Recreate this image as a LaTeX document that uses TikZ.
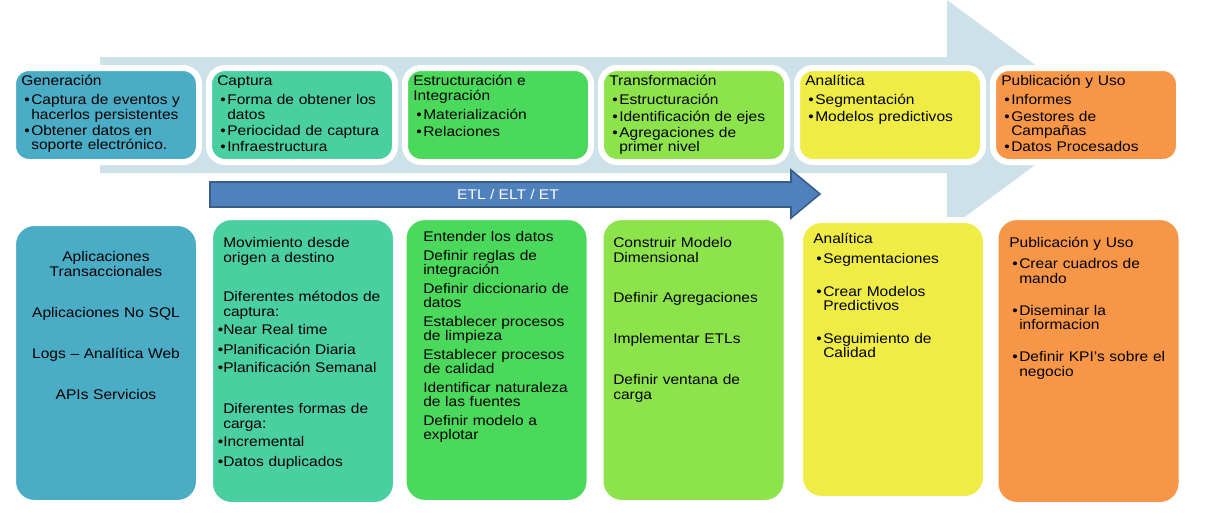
\documentclass[tikz,border=0pt]{standalone}
\usepackage{fontspec}
\setmainfont[FakeStretch=1.11]{Liberation Sans}
\usepackage{xcolor}
\usetikzlibrary{shadows}

\definecolor{cGen}{RGB}{75,172,198}
\definecolor{cCap}{RGB}{74,207,160}
\definecolor{cEst}{RGB}{75,217,91}
\definecolor{cTra}{RGB}{141,227,75}
\definecolor{cAna}{RGB}{238,236,69}
\definecolor{cPub}{RGB}{247,150,70}
\definecolor{cFondo}{RGB}{205,225,232}
\definecolor{cEtl}{RGB}{79,129,189}
\definecolor{cEtlBorde}{RGB}{56,93,138}

\newcommand{\vin}{\hspace*{2.25pt}\makebox[5.25pt][l]{\textbullet}}
\newcommand{\sig}{\hspace*{7.5pt}}
\newcommand{\pto}{\leavevmode\llap{\textbullet}}

\begin{document}
\begin{tikzpicture}[x=0.75pt, y=-0.75pt,
    caja/.style={rectangle, rounded corners=#1, draw=white, line width=4.5pt,
        minimum width=139.5pt, drop shadow={opacity=0.25, shadow xshift=1.2pt, shadow yshift=-1.8pt}},
    texto/.style={anchor=base west, inner sep=0pt, text width=132pt, align=left,
        font=\fontsize{10.5}{10.9}\selectfont}]
    \useasboundingbox (0,0) rectangle (1207,522);

    % Flecha de fondo
    \fill[cFondo] (100,57) -- (947,57) -- (947,0) -- (1103,115) -- (947,230)
        -- (947,173) -- (100,173) -- cycle;

    % Cajas superiores
    \foreach \i/\c in {0/cGen, 1/cCap, 2/cEst, 3/cTra, 4/cAna, 5/cPub} {
        \node[caja=12pt, fill=\c, minimum height=70.5pt] (sup\i) at (106+196*\i,115) {};
    }

    % Flecha ETL
    \draw[fill=cEtl, draw=cEtlBorde, line width=1.2pt] (210,182) -- (791,182) -- (791,170)
        -- (820,194) -- (791,218) -- (791,207) -- (210,207) -- cycle;
    \node[font=\fontsize{10.5}{10.9}\selectfont, text=white] (etl) at (508,194) {ETL / ELT / ET};

    % Cajas inferiores
    \foreach \i/\x/\y/\h/\c in {0/106/363/274/cGen, 1/303/361/282/cCap, 2/496.5/360/280/cEst,
            3/693.5/360/280/cTra, 4/893/359.5/273/cAna, 5/1088.5/361/282/cPub} {
        \node[caja=16pt, fill=\c, minimum height=\h*0.75pt+4.5pt] (inf\i) at (\x,\y) {};
    }

    % Textos superiores
    \node[texto] (tgen) at (21,85.5) {Generación\\[3.4pt]
        \vin Captura de eventos y\\ \sig hacerlos persistentes\\[1.2pt]
        \vin Obtener datos en\\ \sig soporte electrónico.};
    \node[texto] (tcap) at (217,85.5) {Captura\\[3.4pt]
        \vin Forma de obtener los\\ \sig datos\\[1.2pt]
        \vin Periocidad de captura\\[1.2pt] \vin Infraestructura};
    \node[texto] (test) at (413,85.5) {Estructuración e\\ Integración\\[4pt]
        \vin Materialización\\[1.2pt] \vin Relaciones};
    \node[texto] (ttra) at (609,85.5) {Transformación\\[3.4pt]
        \vin Estructuración\\[1.5pt] \vin Identificación de ejes\\[1.2pt]
        \vin Agregaciones de\\ \sig primer nivel};
    \node[texto] (tana) at (805,85.5) {Analítica\\[3.4pt]
        \vin Segmentación\\[1.5pt] \vin Modelos predictivos};
    \node[texto] (tpub) at (1001,85.5) {Publicación y Uso\\[3.4pt]
        \vin Informes\\[1.5pt] \vin Gestores de\\ \sig Campañas\\[1.2pt]
        \vin Datos Procesados};

    % Textos inferiores
    \node[texto, anchor=base, align=center, text width=135pt] (tapl) at (106,261.5) {Aplicaciones\\
        Transaccionales\\[19.9pt] Aplicaciones No SQL\\[19.9pt]
        Logs – Analítica Web\\[19.9pt] APIs Servicios};
    \node[texto] (tmov) at (223,247.5) {Movimiento desde\\ origen a destino\\[18.7pt]
        Diferentes métodos de\\ captura:\\[3pt]
        \pto Near Real time\\[4pt] \pto Planificación Diaria\\[3pt]
        \pto Planificación Semanal\\[19.5pt]
        Diferentes formas de\\ carga:\\[3pt]
        \pto Incremental\\[4pt] \pto Datos duplicados};
    \node[texto] (tent) at (423,241.5) {Entender los datos\\[3pt]
        Definir reglas de\\ integración\\[3pt]
        Definir diccionario de\\ datos\\[3pt]
        Establecer procesos\\ de limpieza\\[3pt]
        Establecer procesos\\ de calidad\\[3pt]
        Identificar naturaleza\\ de las fuentes\\[3pt]
        Definir modelo a\\ explotar};
    \node[texto] (tcon) at (613,247.5) {Construir Modelo\\ Dimensional\\[19.5pt]
        Definir Agregaciones\\[19.9pt] Implementar ETLs\\[19.9pt]
        Definir ventana de\\ carga};
    \node[texto] (tseg) at (813,243.5) {Analítica\\[4.1pt]
        \vin Segmentaciones\\[13.5pt]
        \vin Crear Modelos\\ \sig Predictivos\\[13.5pt]
        \vin Seguimiento de\\ \sig Calidad};
    \node[texto] (tcua) at (1009,247.5) {Publicación y Uso\\[4.9pt]
        \vin Crear cuadros de\\ \sig mando\\[13.1pt]
        \vin Diseminar la\\ \sig informacion\\[13.1pt]
        \vin Definir KPI’s sobre el\\ \sig negocio};
\end{tikzpicture}
\end{document}
